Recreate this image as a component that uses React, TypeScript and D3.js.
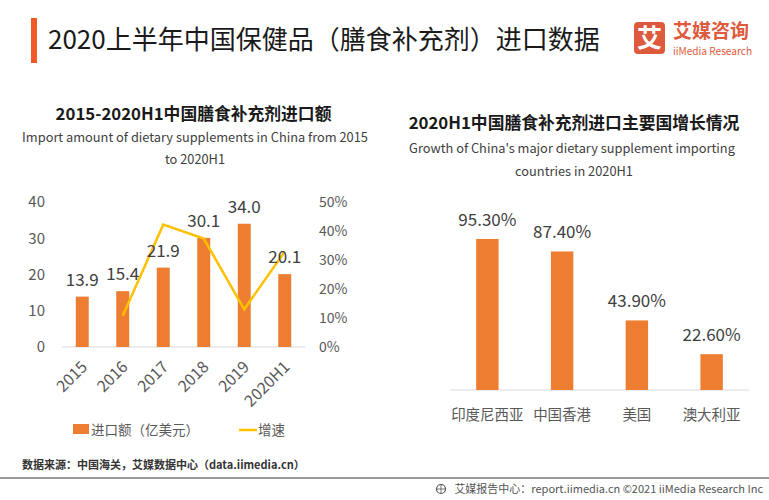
import React from "react";
import * as d3 from "d3";

const years = ["2015", "2016", "2017", "2018", "2019", "2020H1"];
const importValues = [13.9, 15.4, 21.9, 30.1, 34.0, 20.1];
const growthRates: (number | null)[] = [null, 10.8, 42.2, 37.4, 13.0, 32.9];
const leftTicks = [0, 10, 20, 30, 40];
const rightTicks = [0, 10, 20, 30, 40, 50];

const countries = ["印度尼西亚", "中国香港", "美国", "澳大利亚"];
const countryGrowth = [95.3, 87.4, 43.9, 22.6];

const FONT = "'Noto Sans CJK SC', 'Noto Sans', sans-serif";
const ORANGE = "#ED7D31";
const YELLOW = "#FFC000";
const LOGO = "#DD5A3C";

export default function App() {
  // left chart scales
  const xL = d3.scaleBand<string>().domain(years).range([62, 305]).paddingInner(0.68).paddingOuter(0.34);
  const yL = d3.scaleLinear().domain([0, 40]).range([347, 202]);
  const yR = d3.scaleLinear().domain([0, 50]).range([347, 202]);
  const lineGen = d3
    .line<number | null>()
    .defined((d) => d !== null)
    .x((_, i) => (xL(years[i]) as number) + xL.bandwidth() / 2)
    .y((d) => yR(d as number));

  // right chart scales
  const xC = d3.scaleBand<string>().domain(countries).range([450, 749]).paddingInner(0.7).paddingOuter(0.35);
  const yC = d3.scaleLinear().domain([0, 100]).range([390, 231.5]);

  return (
    <svg
      width={769}
      height={500}
      style={{ position: "absolute", left: 0, top: 0, background: "#fff" }}
      fontFamily={FONT}
    >
      <rect x={0} y={0} width={769} height={500} fill="#fff" />
      {/* header */}
      <rect x={31} y={18} width={6} height={45} fill="#F05A28" />
      <text x={48} y={39} dy="0.37em" fontSize={26} fill="#1a1a1a">
        2020上半年中国保健品（膳食补充剂）进口数据
      </text>
      <rect x={634} y={22} width={31} height={32} rx={4} fill={LOGO} />
      <text x={649.5} y={38} dy="0.37em" textAnchor="middle" fontSize={25} fontWeight={700} fill="#fff">
        艾
      </text>
      <text x={673} y={31} dy="0.37em" fontSize={19} fontWeight={700} fill={LOGO}>
        艾媒咨询
      </text>
      <text x={673} y={51.5} dy="0.35em" fontSize={11} fill={LOGO} textLength={79} lengthAdjust="spacingAndGlyphs">
        iiMedia Research
      </text>

      {/* left chart titles */}
      <text x={193.5} y={114} dy="0.37em" textAnchor="middle" fontSize={16.8} fontWeight={700} fill="#1a1a1a">
        2015-2020H1中国膳食补充剂进口额
      </text>
      <text x={195} y={138} dy="0.35em" textAnchor="middle" fontSize={12.8} fill="#404040">
        Import amount of dietary supplements in China from 2015
      </text>
      <text x={195} y={160} dy="0.35em" textAnchor="middle" fontSize={12.8} fill="#404040">
        to 2020H1
      </text>

      {/* left axes */}
      {leftTicks.map((t) => (
        <text key={"l" + t} x={45} y={yL(t)} dy="0.35em" textAnchor="end" fontSize={15} fill="#595959">
          {t}
        </text>
      ))}
      {rightTicks.map((t) => (
        <text key={"r" + t} x={319} y={yR(t)} dy="0.35em" textAnchor="start" fontSize={14} fill="#595959">
          {t + "%"}
        </text>
      ))}
      <line x1={62} x2={305} y1={yL(0)} y2={yL(0)} stroke="#D9D9D9" strokeWidth={1} />
      {years.map((yr, i) => {
        const x = xL(yr) as number;
        const cx = x + xL.bandwidth() / 2;
        return (
          <g key={yr}>
            <rect x={x} y={yL(importValues[i])} width={xL.bandwidth()} height={yL(0) - yL(importValues[i])} fill={ORANGE} />
            <text transform={`translate(${cx + 6},${368}) rotate(-45)`} textAnchor="end" fontSize={16} fill="#595959">
              {yr}
            </text>
          </g>
        );
      })}
      <path d={lineGen(growthRates) || ""} fill="none" stroke={YELLOW} strokeWidth={2.5} strokeLinejoin="miter" />
      {years.map((yr, i) => {
        const cx = (xL(yr) as number) + xL.bandwidth() / 2;
        return (
          <text key={"v" + yr} x={cx} y={yL(importValues[i]) - 11} textAnchor="middle" fontSize={17} fill="#404040">
            {importValues[i].toFixed(1)}
          </text>
        );
      })}

      {/* legend */}
      <rect x={73} y={424} width={16} height={10} fill={ORANGE} />
      <text x={91} y={430} dy="0.37em" fontSize={13.5} fill="#595959">
        进口额（亿美元）
      </text>
      <line x1={239} x2={257} y1={430} y2={430} stroke={YELLOW} strokeWidth={2.5} />
      <text x={258} y={430} dy="0.37em" fontSize={13.5} fill="#595959">
        增速
      </text>

      {/* right chart titles */}
      <text x={574} y={123} dy="0.37em" textAnchor="middle" fontSize={16.8} fontWeight={700} fill="#1a1a1a">
        2020H1中国膳食补充剂进口主要国增长情况
      </text>
      <text x={572} y={149} dy="0.35em" textAnchor="middle" fontSize={12.8} fill="#404040">
        Growth of China's major dietary supplement importing
      </text>
      <text x={574} y={172} dy="0.35em" textAnchor="middle" fontSize={12.8} fill="#404040">
        countries in 2020H1
      </text>
      <line x1={450} x2={749} y1={yC(0)} y2={yC(0)} stroke="#D9D9D9" strokeWidth={1} />
      {countries.map((c, i) => {
        const x = xC(c) as number;
        const cx = x + xC.bandwidth() / 2;
        return (
          <g key={c}>
            <rect x={x} y={yC(countryGrowth[i])} width={xC.bandwidth()} height={yC(0) - yC(countryGrowth[i])} fill={ORANGE} />
            <text x={cx} y={yC(countryGrowth[i]) - 13} textAnchor="middle" fontSize={17} fill="#404040">
              {countryGrowth[i].toFixed(2) + "%"}
            </text>
            <text x={cx} y={415} dy="0.37em" textAnchor="middle" fontSize={14.5} fill="#595959">
              {c}
            </text>
          </g>
        );
      })}

      {/* source */}
      <text x={22} y={465} dy="0.37em" fontSize={11} fontWeight={700} fill="#333">
        数据来源：中国海关，艾媒数据中心（data.iimedia.cn）
      </text>

      {/* footer */}
      <line x1={0} x2={769} y1={478} y2={478} stroke="#9a9a9a" strokeWidth={2} />
      <circle cx={441} cy={489} r={4.5} fill="none" stroke="#555" strokeWidth={1.2} />
      <path d="M437,489 L445,489 M441,484.5 L441,493.5" stroke="#555" strokeWidth={0.8} />
      <text x={763} y={489} dy="0.36em" textAnchor="end" fontSize={11} fill="#555">
        艾媒报告中心：report.iimedia.cn ©2021 iiMedia Research Inc
      </text>
    </svg>
  );
}
